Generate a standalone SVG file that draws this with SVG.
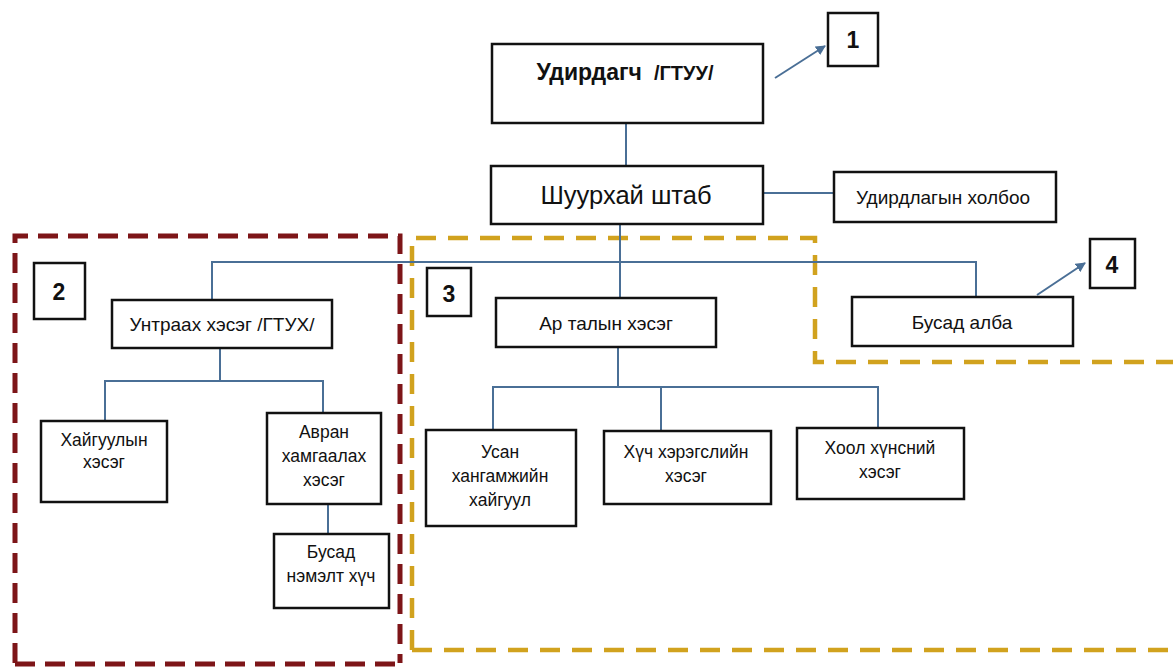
<svg xmlns="http://www.w3.org/2000/svg" width="1173" height="669" viewBox="0 0 1173 669">
  <style>
    .box { fill: #fff; stroke: #111; stroke-width: 2.5; }
    .lbl { font-family: "Liberation Sans", Arial, sans-serif; font-size: 19px; fill: #111; text-anchor: middle; }
    .sm { font-size: 17.5px; }
    .num { font-family: "Liberation Sans", Arial, sans-serif; font-size: 23px; font-weight: bold; fill: #111; text-anchor: middle; }
    .conn { stroke: #4a6f96; stroke-width: 2; fill: none; }
    .zone-red { stroke: #7d1518; stroke-width: 5; fill: none; stroke-dasharray: 20 10; }
    .zone-gold { stroke: #d1a21e; stroke-width: 4.5; fill: none; stroke-dasharray: 20 12; }
  </style>
  <defs>
    <marker id="arrow" viewBox="0 0 10 10" refX="9" refY="5" markerWidth="5" markerHeight="5" orient="auto">
      <path d="M0,0 L10,5 L0,10 z" fill="#4a6f96"/>
    </marker>
  </defs>
  <rect width="1173" height="669" fill="#fff"/>

  <!-- dashed zone outlines -->
  <g id="zones">
    <path class="zone-red" d="M15,663 L15,236 L400,236 L400,663"/>
    <path class="zone-red" d="M15,664 L398,664"/>
    <path class="zone-gold" d="M412,650 L412,238 L815,238 L815,362 L1173,362"/>
    <path class="zone-gold" d="M412,650 L1173,650"/>
  </g>

  <!-- connectors -->
  <g id="connectors">
    <line class="conn" x1="626" y1="123" x2="626" y2="166"/>
    <line class="conn" x1="763" y1="193" x2="834" y2="193"/>
    <line class="conn" x1="620" y1="224" x2="620" y2="298"/>
    <polyline class="conn" points="212,300 212,262 976,262 976,297"/>
    <polyline class="conn" points="220,348 220,381"/>
    <polyline class="conn" points="105,421 105,381 323,381 323,413"/>
    <line class="conn" x1="328" y1="504" x2="328" y2="534"/>
    <line class="conn" x1="618" y1="347" x2="618" y2="387"/>
    <polyline class="conn" points="493,430 493,387 878,387 878,428"/>
    <line class="conn" x1="661" y1="387" x2="661" y2="430"/>
    <line class="conn" x1="775" y1="78" x2="825" y2="46" marker-end="url(#arrow)"/>
    <line class="conn" x1="1037" y1="295" x2="1085" y2="263" marker-end="url(#arrow)"/>
  </g>

  <g id="n-leader">
    <rect class="box" x="492" y="44" width="271" height="79"/>
    <text class="lbl" x="625" y="80" style="font-size:23px;font-weight:bold">Удирдагч<tspan dx="12" style="font-size:20px">/ГТУУ/</tspan></text>
  </g>
  <g id="n-label1">
    <rect class="box" x="828" y="13" width="50" height="53"/>
    <text class="num" x="853" y="48">1</text>
  </g>
  <g id="n-staff">
    <rect class="box" x="491" y="166" width="272" height="58"/>
    <text class="lbl" x="626" y="204" style="font-size:25.5px">Шуурхай штаб</text>
  </g>
  <g id="n-comm">
    <rect class="box" x="834" y="172" width="222" height="50"/>
    <text class="lbl" x="943" y="204">Удирдлагын холбоо</text>
  </g>

  <g id="n-label2">
    <rect class="box" x="34" y="263" width="51" height="56"/>
    <text class="num" x="59" y="300">2</text>
  </g>
  <g id="n-fire">
    <rect class="box" x="112" y="300" width="220" height="48"/>
    <text class="lbl" x="222" y="331">Унтраах хэсэг /ГТУХ/</text>
  </g>
  <g id="n-recon">
    <rect class="box" x="41" y="421" width="126" height="81"/>
    <text class="lbl sm" x="104" y="446">Хайгуулын</text>
    <text class="lbl sm" x="104" y="468">хэсэг</text>
  </g>
  <g id="n-rescue">
    <rect class="box" x="267" y="413" width="114" height="91"/>
    <text class="lbl sm" x="324" y="438">Авран</text>
    <text class="lbl sm" x="324" y="462">хамгаалах</text>
    <text class="lbl sm" x="324" y="486">хэсэг</text>
  </g>
  <g id="n-extra">
    <rect class="box" x="274" y="534" width="115" height="74"/>
    <text class="lbl sm" x="331" y="558">Бусад</text>
    <text class="lbl sm" x="331" y="582">нэмэлт хүч</text>
  </g>

  <g id="n-label3">
    <rect class="box" x="427" y="268" width="44" height="48"/>
    <text class="num" x="449" y="302">3</text>
  </g>
  <g id="n-rear">
    <rect class="box" x="496" y="298" width="220" height="49"/>
    <text class="lbl" x="606" y="330">Ар талын хэсэг</text>
  </g>
  <g id="n-water">
    <rect class="box" x="426" y="430" width="150" height="96"/>
    <text class="lbl sm" x="500" y="458">Усан</text>
    <text class="lbl sm" x="500" y="482">хангамжийн</text>
    <text class="lbl sm" x="500" y="506">хайгуул</text>
  </g>
  <g id="n-equip">
    <rect class="box" x="604" y="431" width="167" height="73"/>
    <text class="lbl sm" x="686" y="458">Хүч хэрэгслийн</text>
    <text class="lbl sm" x="686" y="482">хэсэг</text>
  </g>
  <g id="n-food">
    <rect class="box" x="797" y="428" width="167" height="71"/>
    <text class="lbl sm" x="880" y="454">Хоол хүнсний</text>
    <text class="lbl sm" x="880" y="478">хэсэг</text>
  </g>

  <g id="n-other">
    <rect class="box" x="852" y="297" width="221" height="49"/>
    <text class="lbl" x="962" y="329">Бусад алба</text>
  </g>
  <g id="n-label4">
    <rect class="box" x="1090" y="239" width="45" height="49"/>
    <text class="num" x="1112" y="273">4</text>
  </g>
</svg>
